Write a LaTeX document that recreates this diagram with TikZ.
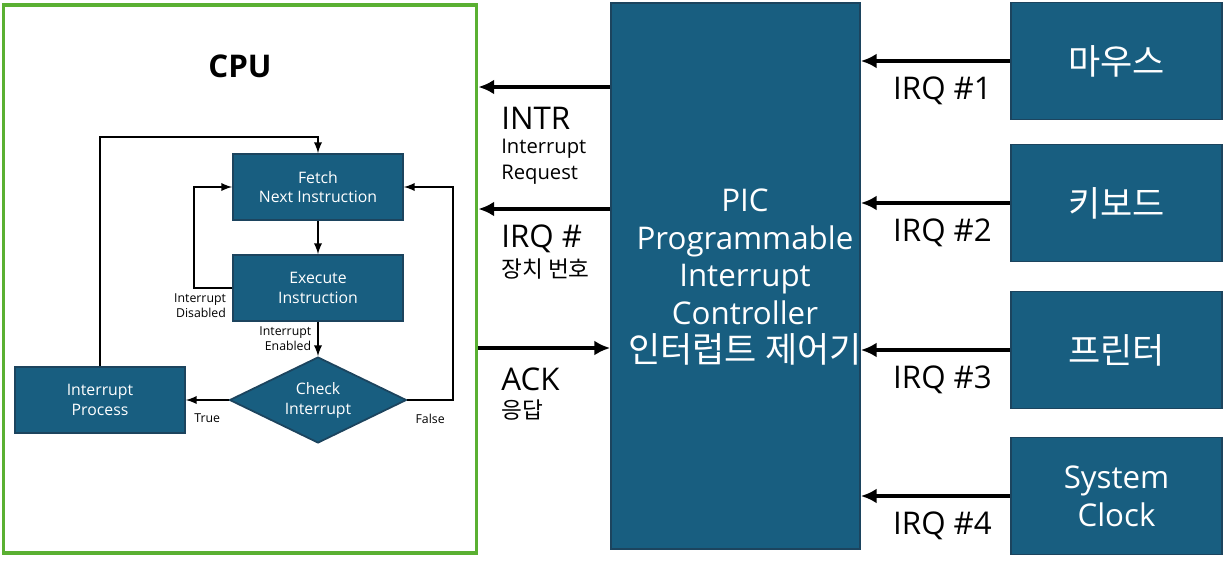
\documentclass[tikz,border=0pt]{standalone}
\usepackage{fontspec}
\setmainfont{Open Sans}
\newfontfamily\kr[Scale=1.12]{Noto Sans CJK KR}
\usetikzlibrary{shapes.geometric,arrows.meta}

\definecolor{boxblue}{RGB}{24,94,128}
\definecolor{boxedge}{RGB}{28,68,94}
\definecolor{cpugreen}{RGB}{90,176,50}

\newcommand
    {\picfont}
    {%
        \fontsize{17.8}{21.5}\selectfont%
    }
\newcommand
    {\subfont}
    {%
        \fontsize{11.5}{14.7}\selectfont%
    }
\newcommand
    {\flowfont}
    {%
        \fontsize{9}{11.3}\selectfont%
    }
\newcommand
    {\notefont}
    {%
        \fontsize{7}{8.5}\selectfont%
    }

\tikzset{
    block/.style={rectangle, draw=boxedge, line width=1pt, fill=boxblue, text=white, align=center},
    devbox/.style={block, minimum width=4.22cm, minimum height=2.34cm, font=\picfont},
    flowbox/.style={block, minimum width=3.4cm, minimum height=1.32cm, font=\flowfont},
    bus/.style={line width=2.4pt, -{Latex[length=9pt,width=8.5pt]}},
    flow/.style={line width=1.1pt, -latex},
    note/.style={inner sep=0pt, align=left, anchor=west},
}

\begin{document}
\begin{tikzpicture}[x=0.02cm, y=-0.02cm]
        \useasboundingbox (0,0) rectangle (1224,562);

        % 1. CPU frame
        \node (cpu) at (240,279) [draw=cpugreen, line width=2.2pt, minimum width=9.46cm, minimum height=10.96cm] {};
        \node (cputitle) at (240,66) [font=\picfont\bfseries] {CPU};

        % 2. Flowchart inside the CPU
        \node (fetch) at (318,187) [flowbox] {Fetch\\Next Instruction};
        \node (exec) at (318,288) [flowbox] {Execute\\Instruction};
        \node (check) at (318,400) [diamond, aspect=2, inner sep=0pt, minimum width=3.54cm, minimum height=1.72cm,
            fill=boxblue, draw=boxedge, line width=1pt, text=white, align=center, font=\flowfont] {Check\\Interrupt};
        \node (intp) at (100,400) [flowbox] {Interrupt\\Process};

        \coordinate (disc) at (194,0);
        \coordinate (falsec) at (453,0);
        \coordinate (back) at (100,137);

        \draw[flow] (fetch.south) -- (exec.north);
        \draw[flow] (exec.south) -- node[midway, left, align=right, font=\notefont] {Interrupt\\Enabled} (check.north);
        \draw[flow] (exec.west) -- (exec.west -| disc) |- (fetch.west);
        \node (dislbl) at (exec.west) [anchor=north east, align=right, font=\notefont] {Interrupt\\Disabled};
        \draw[flow] (check.west) -- node[midway, below=4pt, font=\notefont] {True} (intp.east);
        \draw[flow] (check.east) -- node[midway, below=4pt, font=\notefont] {False} (check.east -| falsec) |- (fetch.east);
        \draw[flow] (intp.north) -- (back) -| (fetch.north);

        % 3. PIC
        \node (pic) at (735.5,276) [block, minimum width=4.98cm, minimum height=10.92cm] {};
        \node (pictext) at (745,277) [align=center, text=white, font=\picfont]
            {PIC\\Programmable\\Interrupt\\Controller\\{\kr 인터럽트 제어기}};

        % 4. Devices
        \node (mouse) at (1116.5,61) [devbox] {\kr 마우스};
        \node (kbd) at (1116.5,203) [devbox] {\kr 키보드};
        \node (prn) at (1116.5,350) [devbox] {\kr 프린터};
        \node (clk) at (1116.5,496) [devbox] {System\\Clock};

        \foreach \d/\n in {mouse/1, kbd/2, prn/3, clk/4}
            \draw[bus] (\d.west) -- node[midway, xshift=4pt, yshift=-17pt, font=\picfont] {IRQ \#\n} (\d.west -| pic.east);

        % 5. PIC <-> CPU signals
        \coordinate (intrrow) at (0,87);
        \coordinate (irqrow) at (0,209);
        \coordinate (ackrow) at (0,348);

        \draw[bus] (intrrow -| pic.west) -- (intrrow -| cpu.east);
        \draw[bus] (irqrow -| pic.west) -- (irqrow -| cpu.east);
        \draw[bus] (ackrow -| cpu.east) -- (ackrow -| pic.west);

        \node (intrlbl) at (501,118) [note, font=\picfont] {INTR};
        \node (intrsub) at (501,162) [note, font=\subfont] {Interrupt\\Request};
        \node (irqlbl) at (501,239) [note, font=\picfont] {IRQ \#};
        \node (irqsub) at (501,269) [note, font=\subfont] {\kr 장치 번호};
        \node (acklbl) at (501,379) [note, font=\picfont] {ACK};
        \node (acksub) at (501,410) [note, font=\subfont] {\kr 응답};

    \end{tikzpicture}
\end{document}
